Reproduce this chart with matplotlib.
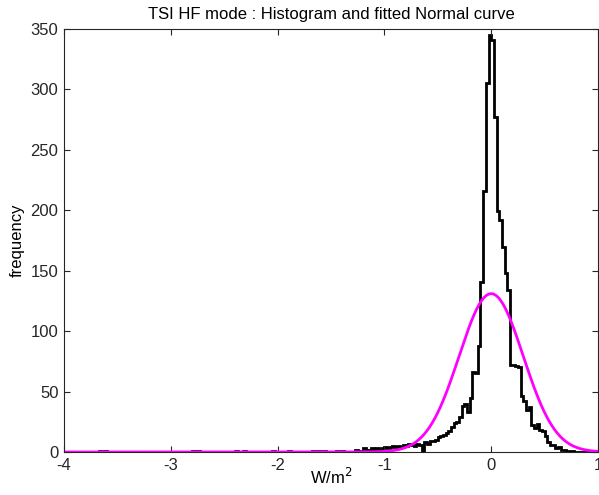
import numpy as np
import matplotlib
matplotlib.use("Agg")
import matplotlib.pyplot as plt

plt.rcParams['font.family'] = ['Liberation Sans', 'DejaVu Sans']

#histogram bins (width 0.025 W/m2 from -4 to 1)
bin_width = 0.025
x_min, x_max = -4.0, 1.0

#sparse counts in the far left tail (bin left edges)
tail_left = [-3.675, -3.625, -2.8, -2.75, -2.4, -2.325, -2.05, -1.9,
             -1.675, -1.625, -1.575, -1.45, -1.4, -1.275, -1.225, -1.2, -1.175]
tail_counts = [1, 1, 1, 1, 1, 1, 1, 1, 1, 1, 1, 1, 1, 2, 1, 3, 2]

#contiguous counts starting at -1.15
core_start = -1.15
core_counts = [2, 3, 2, 3, 2, 3, 4, 3, 4, 5, 4, 5, 4, 6, 5, 7, 6, 5, 7, 6,
               1, 8, 7, 9, 9, 10, 12, 13, 14, 16, 17, 21, 24, 25, 29, 38, 40, 33, 45, 66,
               65, 88, 141, 216, 305, 345, 341, 277, 199, 192, 170, 148, 134, 72, 72, 71, 70, 46, 42, 35,
               37, 22, 20, 23, 18, 17, 13, 8, 6, 6, 3, 4, 2, 2, 1, 1, 1, 0]

#fitted Normal curve
fit_mu = 0.0
fit_sigma = 0.3
fit_peak = 131

edges = np.round(np.arange(x_min, x_max + bin_width / 2, bin_width), 4)
counts = np.zeros(len(edges) - 1)
for e, c in zip(tail_left, tail_counts):
    counts[int(round((e - x_min) / bin_width))] = c
i0 = int(round((core_start - x_min) / bin_width))
counts[i0:i0 + len(core_counts)] = core_counts

xs = np.linspace(x_min, x_max, 600)
ys = fit_peak * np.exp(-(xs - fit_mu) ** 2 / (2 * fit_sigma ** 2))

fig = plt.figure(figsize=(5.99, 4.95), dpi=100)
ax = fig.add_axes([0.1068, 0.0869, 0.8915, 0.8545])
ax.stairs(counts, edges, color='black', linewidth=2)
ax.plot(xs, ys, color='#ff00ff', linewidth=2)

ax.set_xlim(x_min, x_max)
ax.set_ylim(0, 350)
ax.set_xticks([-4, -3, -2, -1, 0, 1])
ax.set_xticklabels(['-4', '-3', '-2', '-1', '0', '1'])
ax.set_yticks(range(0, 351, 50))
ax.tick_params(direction='in', top=True, right=True, labelsize=12, length=4, pad=4,
               color='#262626', labelcolor='#262626')
for s in ax.spines.values():
    s.set_color('#262626')
    s.set_linewidth(0.8)

ax.set_title('TSI HF mode : Histogram and fitted Normal curve', fontsize=12, pad=7)
ax.set_xlabel('W/m$^2$', fontsize=12, labelpad=-4)
ax.set_ylabel('frequency', fontsize=12, labelpad=4)

plt.savefig("out.png")
plt.close()
